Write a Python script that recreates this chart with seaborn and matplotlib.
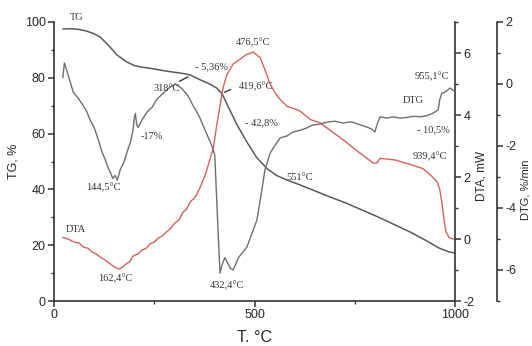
import numpy as np
import pandas as pd
import seaborn as sns
import matplotlib.pyplot as plt
from matplotlib.ticker import MultipleLocator

# TG, %
t_tg = [22, 40, 60, 80, 100, 115, 135, 157, 180, 200, 220, 240, 260, 280, 300, 320, 340, 364, 385,
        406, 419, 435, 455, 481, 505, 531, 555, 580, 610, 650, 690, 730, 770, 810, 850, 890, 930, 960,
        985, 1000]
tg = [97.5, 97.6, 97.4, 96.8, 95.8, 94.6, 91.8, 88.2, 85.8, 84.4, 83.8, 83.4, 82.9, 82.4, 82.0, 81.6,
      81.0, 79.3, 78.0, 76.3, 74.3, 69.5, 63.5, 57.0, 51.5, 47.5, 45.0, 43.4, 41.8, 39.5, 37.2, 35.0,
      32.5, 30.0, 27.3, 24.6, 21.5, 19.0, 17.6, 17.2]

# DTA, mW
t_dta = [22, 35, 50, 62, 73, 85, 95, 105, 115, 125, 135, 150, 162, 172, 180, 190, 197, 210, 220, 230,
         239, 250, 260, 270, 281, 290, 300, 312, 322, 330, 340, 352, 364, 378, 389, 397, 405, 414,
         422, 431, 447, 464, 480, 497, 514, 525, 539, 552, 564, 581, 600, 613, 640, 663, 700, 731,
         760, 796, 805, 813, 830, 850, 863, 890, 920, 940, 955, 962, 967, 972, 977, 985, 995, 1000]
dta = [0.05, 0.0, -0.1, -0.12, -0.26, -0.3, -0.42, -0.48, -0.58, -0.66, -0.75, -0.9, -0.97, -0.9,
       -0.8, -0.72, -0.55, -0.48, -0.35, -0.3, -0.16, -0.1, 0.03, 0.1, 0.23, 0.33, 0.5, 0.62, 0.87,
       0.95, 1.2, 1.35, 1.65, 2.1, 2.58, 2.9, 3.6, 4.3, 4.9, 5.3, 5.65, 5.8, 5.95, 6.03, 5.85, 5.5,
       5.0, 4.7, 4.5, 4.28, 4.2, 4.13, 3.85, 3.75, 3.4, 3.1, 2.8, 2.45, 2.45, 2.6, 2.58, 2.55, 2.5,
       2.4, 2.27, 2.05, 1.85, 1.6, 1.2, 0.7, 0.25, 0.05, 0.0, 0.0]

# DTG, %/min
t_dtg = [22, 26, 35, 48, 60, 73, 82, 90, 100, 108, 120, 128, 135, 142, 147, 152, 158, 165, 175, 182,
         190, 197, 200, 203, 206, 210, 220, 232, 245, 256, 268, 281, 292, 302, 314, 322, 335, 347,
         356, 364, 377, 389, 394, 401, 405, 410, 414, 420, 426, 432, 440, 447, 460, 481, 506,
         518, 526, 539, 550, 564, 580, 596, 612, 630, 646, 660, 681, 700, 721, 740, 760, 780, 792,
         800, 806, 813, 830, 846, 862, 880, 897, 913, 930, 945, 958, 962, 967, 975, 988, 995, 1000]
dtg = [0.2, 0.68, 0.3, -0.26, -0.45, -0.7, -0.9, -1.16, -1.4, -1.7, -2.2, -2.45, -2.7, -2.9, -3.05,
       -2.95, -3.1, -2.77, -2.5, -2.2, -1.9, -1.5, -1.1, -0.95, -1.3, -1.4, -1.15, -0.9, -0.75, -0.5,
       -0.35, -0.19, -0.08, 0.0, -0.1, -0.19, -0.4, -0.7, -0.9, -1.1, -1.5, -1.85, -2.0, -2.3, -3.5,
       -5.0, -6.1, -5.8, -5.6, -5.75, -5.95, -6.0, -5.6, -5.26, -4.39, -3.45, -2.77, -2.23, -2.0,
       -1.74, -1.68, -1.55, -1.5, -1.42, -1.32, -1.3, -1.23, -1.2, -1.26, -1.22, -1.3, -1.39, -1.45,
       -1.55, -1.3, -1.06, -1.1, -1.06, -1.1, -1.08, -1.04, -1.06, -1.02, -0.94, -0.84, -0.5, -0.3,
       -0.26, -0.13, -0.2, -0.26]

# text labels: (x in °C, y in TG %)
labels = [("TG", 57, 101.5), ("318°C", 281, 76.3), ("- 5,36%", 393, 83.9), ("476,5°C", 497, 92.5),
          ("419,6°C", 503, 76.7), ("-17%", 244, 58.8), ("- 42,8%", 518, 63.8), ("144,5°C", 123, 40.5),
          ("DTA", 55, 25.8), ("162,4°C", 152, 7.9), ("432,4°C", 431, 5.4), ("551°C", 613, 44.4),
          ("955,1°C", 942, 80.6), ("DTG", 895, 72.0), ("- 10,5%", 945, 61.3), ("939,4°C", 938, 51.6)]

df_tg = pd.DataFrame({"T": t_tg, "v": tg})
df_dta = pd.DataFrame({"T": t_dta, "v": dta})
df_dtg = pd.DataFrame({"T": t_dtg, "v": dtg})

sns.set_style("ticks")
plt.rcParams['font.family'] = ['Liberation Sans', 'DejaVu Sans']
plt.rcParams['axes.unicode_minus'] = False

fig = plt.figure(figsize=(5.32, 3.46), dpi=100)
ax = fig.add_axes([54 / 532, 45 / 346, 401 / 532, 279 / 346])
ax2 = ax.twinx()
ax3 = ax.twinx()
ax3.spines['right'].set_position(('axes', 1 + 42 / 401))

sns.lineplot(data=df_tg, x="T", y="v", ax=ax, color="#5a5a5a", linewidth=1.1)
sns.lineplot(data=df_dta, x="T", y="v", ax=ax2, color="#d4625c", linewidth=1.0)
sns.lineplot(data=df_dtg, x="T", y="v", ax=ax3, color="#6e6e6e", linewidth=1.0)

ax.set_xlim(0, 1000)
ax.set_ylim(0, 100)
ax2.set_ylim(-2, 7)
ax3.set_ylim(-7, 2)

ax.xaxis.set_major_locator(MultipleLocator(500))
ax.xaxis.set_minor_locator(MultipleLocator(250))
ax.yaxis.set_major_locator(MultipleLocator(20))
ax.yaxis.set_minor_locator(MultipleLocator(10))
for a in (ax2, ax3):
    a.yaxis.set_major_locator(MultipleLocator(2))
    a.yaxis.set_minor_locator(MultipleLocator(1))

for s in ["top", "right"]:
    ax.spines[s].set_visible(False)
for a in (ax2, ax3):
    for s in ["top", "left", "bottom"]:
        a.spines[s].set_visible(False)
for a in (ax, ax2, ax3):
    for s in a.spines.values():
        s.set_color("#333333")
        s.set_linewidth(1.2)
    a.tick_params(which="major", length=4, width=1.1, color="#333333", labelsize=9, pad=2)
    a.tick_params(which="minor", length=2.5, width=1.0, color="#333333")

ax.set_xlabel("T. °C", fontsize=11.5, labelpad=6)
ax.set_ylabel("TG, %", fontsize=9, labelpad=4)
ax2.set_ylabel("DTA, mW", fontsize=8.5)
ax3.set_ylabel("DTG, %/min", fontsize=8)
ax2.yaxis.set_label_coords(1.05, 0.45)
ax3.yaxis.set_label_coords(1.163, 0.40)

for s, x, y in labels:
    ax3.text(x, y, s, transform=ax.transData, ha="center", va="center", fontsize=7.5,
             family=["Liberation Serif", "DejaVu Serif"], color="#333333", clip_on=False)

# leader lines for the two TG step labels
ax3.annotate("", xy=(307, 78.3), xycoords=ax.transData, xytext=(340, 80.8), textcoords=ax.transData,
             arrowprops=dict(arrowstyle="-", color="#333333", lw=1.0))
ax3.annotate("", xy=(419, 74.4), xycoords=ax.transData, xytext=(447, 76.2), textcoords=ax.transData,
             arrowprops=dict(arrowstyle="-", color="#333333", lw=1.0))

fig.savefig("out.png", dpi=100)
